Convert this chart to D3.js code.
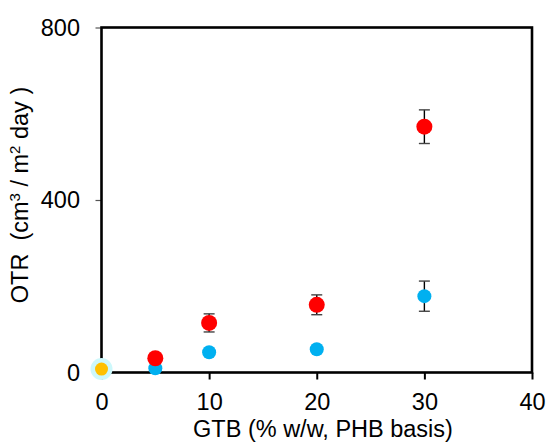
<!DOCTYPE html>
<html>
<head>
<meta charset="utf-8">
<script src="https://cdn.jsdelivr.net/npm/d3@7"></script>
<style>
  html, body { margin: 0; padding: 0; background: #fff; }
  svg { display: block; font-family: "Liberation Sans", Arial, sans-serif; }
</style>
</head>
<body>
<svg id="chart" width="548" height="442"></svg>
<script>
// GTB content (% w/w, PHB basis)
const gtbLevels = [5, 10, 20, 30];

// OTR, first film series (red) with standard deviation
const otrRed = [33, 115, 157, 570];
const errRed = [0, 21, 23, 39];

// OTR, second film series (blue) with standard deviation
const otrBlue = [10, 47, 54, 177];
const errBlue = [0, 0, 0, 35];

// Neat PHB reference at 0 % GTB
const refGtb = [0];
const refOtr = [8];

const xTicks = [0, 10, 20, 30, 40];
const yTicks = [0, 400, 800];

const svg = d3.select("#chart");
const plotLeft = 101.5, plotRight = 532, plotTop = 27.5, plotBottom = 372.5;
const fontSize = 23.5;

const x = d3.scaleLinear().domain([0, 40]).range([plotLeft, plotRight]);
const y = d3.scaleLinear().domain([0, 800]).range([plotBottom, plotTop]);

// Axes
const yAxis = svg.append("g")
  .attr("transform", `translate(${plotLeft},0)`)
  .call(d3.axisLeft(y).tickValues(yTicks).tickSize(6).tickPadding(15.5).tickFormat(d3.format("d")));
yAxis.select(".domain").remove();
yAxis.selectAll(".tick line").attr("stroke", "#555").attr("stroke-width", 1.2);
yAxis.selectAll(".tick text").attr("font-size", fontSize).attr("fill", "#000")
  .attr("font-family", "Liberation Sans, Arial, sans-serif");

const xAxis = svg.append("g")
  .attr("transform", `translate(0,${plotBottom})`)
  .call(d3.axisBottom(x).tickValues(xTicks).tickSize(7).tickPadding(13.8).tickFormat(d3.format("d")));
xAxis.select(".domain").remove();
xAxis.selectAll(".tick line").attr("stroke", "#000").attr("stroke-width", 2);
xAxis.selectAll(".tick text").attr("font-size", fontSize).attr("fill", "#000")
  .attr("font-family", "Liberation Sans, Arial, sans-serif");

// Plot frame
svg.append("rect")
  .attr("x", plotLeft).attr("y", plotTop)
  .attr("width", plotRight - plotLeft).attr("height", plotBottom - plotTop)
  .attr("fill", "none").attr("stroke", "#000").attr("stroke-width", 2.6);

// Error bars
function errorBars(vals, errs, cls) {
  const rows = gtbLevels.map((g, i) => ({ g, v: vals[i], e: errs[i] })).filter(d => d.e > 0);
  const g = svg.append("g").attr("class", cls).attr("stroke", "#000").attr("stroke-width", 1.4);
  g.selectAll("line.v").data(rows).join("line").attr("class", "v")
    .attr("x1", d => x(d.g)).attr("x2", d => x(d.g))
    .attr("y1", d => y(d.v + d.e)).attr("y2", d => y(d.v - d.e));
  g.selectAll("line.t").data(rows).join("line").attr("class", "t")
    .attr("x1", d => x(d.g) - 5.5).attr("x2", d => x(d.g) + 5.5)
    .attr("y1", d => y(d.v + d.e)).attr("y2", d => y(d.v + d.e)).attr("stroke", "#444");
  g.selectAll("line.b").data(rows).join("line").attr("class", "b")
    .attr("x1", d => x(d.g) - 5.5).attr("x2", d => x(d.g) + 5.5)
    .attr("y1", d => y(d.v - d.e)).attr("y2", d => y(d.v - d.e)).attr("stroke", "#444");
}
errorBars(otrBlue, errBlue, "err-blue");
errorBars(otrRed, errRed, "err-red");

// Markers
svg.append("g").selectAll("circle").data(gtbLevels).join("circle")
  .attr("cx", d => x(d)).attr("cy", (d, i) => y(otrBlue[i])).attr("r", 7)
  .attr("fill", "#00B0F0");
svg.append("g").selectAll("circle").data(gtbLevels).join("circle")
  .attr("cx", d => x(d)).attr("cy", (d, i) => y(otrRed[i])).attr("r", 8)
  .attr("fill", "#FF0000");

const ref = svg.append("g");
ref.selectAll("circle.halo").data(refGtb).join("circle").attr("class", "halo")
  .attr("cx", d => x(d)).attr("cy", (d, i) => y(refOtr[i])).attr("r", 11)
  .attr("fill", "#CDF8FB");
ref.selectAll("circle.dot").data(refGtb).join("circle").attr("class", "dot")
  .attr("cx", d => x(d)).attr("cy", (d, i) => y(refOtr[i])).attr("r", 6.5)
  .attr("fill", "#FFC000");

// Axis titles
svg.append("text")
  .attr("x", 323).attr("y", 437)
  .attr("text-anchor", "middle").attr("font-size", fontSize).attr("fill", "#000")
  .text("GTB (% w/w, PHB basis)");

const yt = svg.append("text")
  .attr("transform", "translate(28,195) rotate(-90)")
  .attr("text-anchor", "middle").attr("font-size", fontSize).attr("fill", "#000");
yt.append("tspan").text("OTR\u00a0\u00a0(cm");
yt.append("tspan").attr("font-size", 15).attr("dy", -8.5).text("3");
yt.append("tspan").attr("dy", 8.5).text(" / m");
yt.append("tspan").attr("font-size", 15).attr("dy", -8.5).text("2");
yt.append("tspan").attr("dy", 8.5).text(" day )");
</script>
</body>
</html>
